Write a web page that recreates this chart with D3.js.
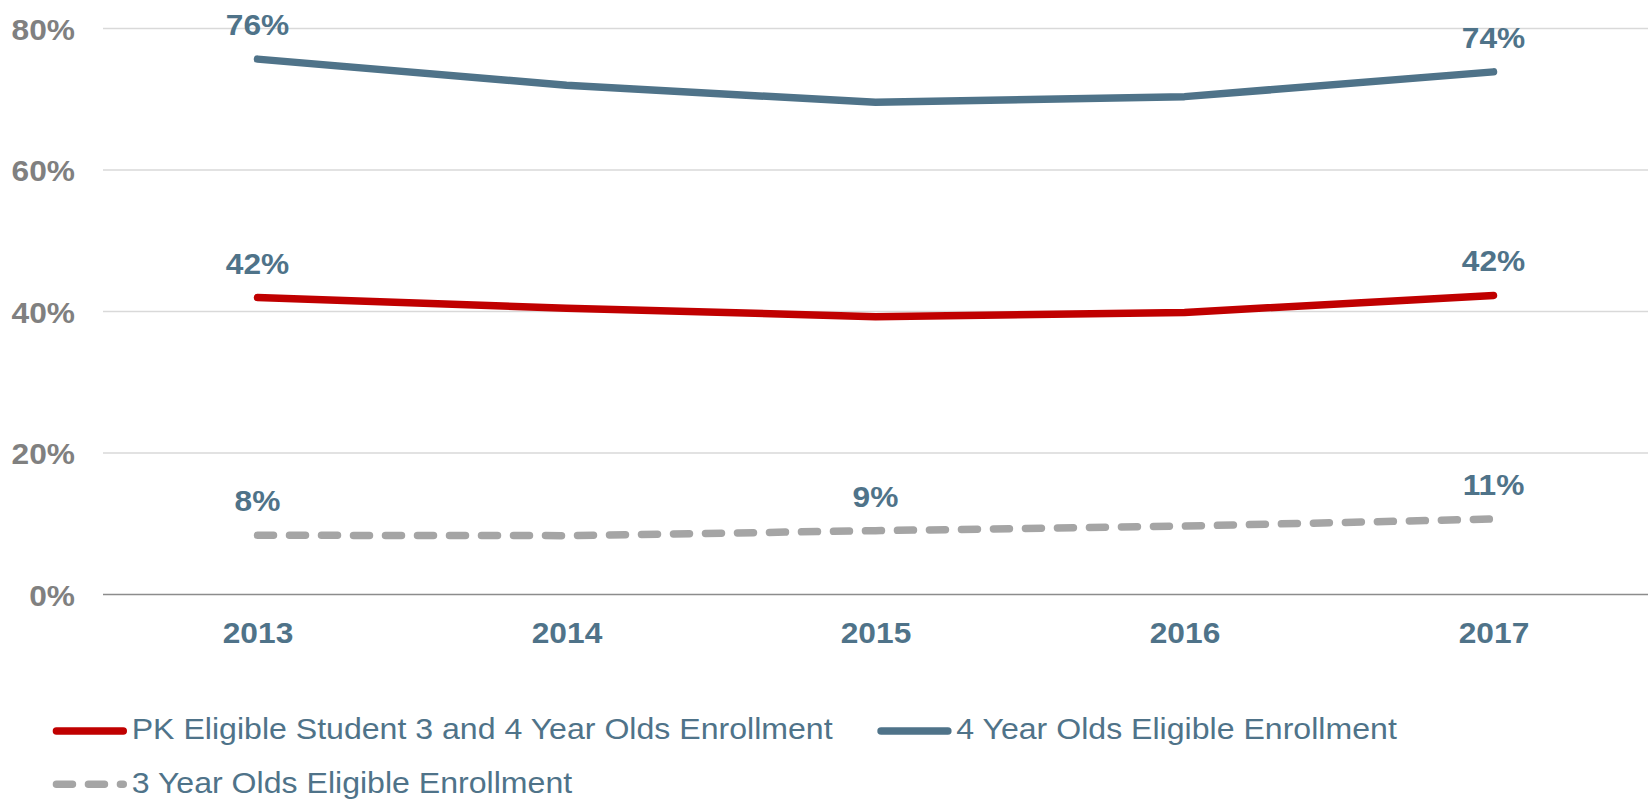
<!DOCTYPE html>
<html>
<head>
<meta charset="utf-8">
<script src="https://cdn.jsdelivr.net/npm/d3@7"></script>
<style>
  html, body { margin: 0; padding: 0; background: #fff; }
  svg { display: block; font-family: "Liberation Sans", Arial, sans-serif; }
</style>
</head>
<body>
<svg id="chart" width="1650" height="800"></svg>
<script>
// Enrollment shares by school year
const years = ["2013", "2014", "2015", "2016", "2017"];
const pkEnrollment = [0.419, 0.404, 0.392, 0.398, 0.422];
const fourYearEnrollment = [0.756, 0.719, 0.695, 0.703, 0.738];
const threeYearEnrollment = [0.083, 0.0825, 0.0895, 0.096, 0.106];
const yTicks = [0, 0.2, 0.4, 0.6, 0.8];

// which points carry a value label, per series
const pkLabelIdx = [0, 4];
const fourLabelIdx = [0, 4];
const threeLabelIdx = [0, 2, 4];

const seriesNames = [
  "PK Eligible Student 3 and 4 Year Olds Enrollment",
  "4 Year Olds Eligible Enrollment",
  "3 Year Olds Eligible Enrollment"
];

const COLORS = { pk: "#c00000", four: "#4f7389", three: "#a5a5a5" };
const TEXT_BLUE = "#4f7389";
const AXIS_GRAY = "#808080";
const FONT_SIZE = 29.5;
const STRETCH = 1.075;        // text is drawn slightly wide
const LEGEND_STRETCH = 1.088;
const LINE_W = 7.5;
const DASH = "16,16";

const svg = d3.select("#chart");

const x = d3.scalePoint().domain(years).range([103, 1648]).padding(0.5);
const y = d3.scaleLinear().domain([0, 0.8]).range([594, 28]);

// horizontal gridlines + percent tick labels
const yAxis = d3.axisLeft(y)
  .tickValues(yTicks)
  .tickFormat(d3.format(".0%"))
  .tickSize(-(1648 - 103))
  .tickPadding(0);

const gy = svg.append("g").attr("transform", "translate(103,0)").call(yAxis);
gy.select(".domain").remove();
gy.selectAll(".tick line")
  .attr("stroke", d => d === 0 ? "#8c8c8c" : "#d9d9d9")
  .attr("stroke-width", d => d === 0 ? 1.6 : 1.3);
gy.selectAll(".tick text")
  .attr("x", 0)
  .attr("dy", null)
  .attr("transform", `translate(-28,11) scale(${STRETCH},1)`)
  .attr("fill", AXIS_GRAY)
  .attr("font-size", FONT_SIZE)
  .attr("font-weight", "bold")
  .attr("font-family", "'Liberation Sans', Arial, sans-serif")
  .attr("text-anchor", "end");

// category labels under the baseline
const xAxis = d3.axisBottom(x).tickSize(0).tickPadding(0);
const gx = svg.append("g").attr("transform", "translate(0,594)").call(xAxis);
gx.select(".domain").remove();
gx.selectAll(".tick text")
  .attr("y", 0)
  .attr("dy", null)
  .attr("transform", `translate(0,48.5) scale(${STRETCH},1)`)
  .attr("fill", TEXT_BLUE)
  .attr("font-size", FONT_SIZE)
  .attr("font-weight", "bold")
  .attr("font-family", "'Liberation Sans', Arial, sans-serif")
  .attr("text-anchor", "middle");

const line = d3.line()
  .x((d, i) => x(years[i]))
  .y(d => y(d));

const series = [
  { key: "three", values: threeYearEnrollment, color: COLORS.three, dash: DASH, labels: threeLabelIdx },
  { key: "pk", values: pkEnrollment, color: COLORS.pk, dash: null, labels: pkLabelIdx },
  { key: "four", values: fourYearEnrollment, color: COLORS.four, dash: null, labels: fourLabelIdx }
];

series.forEach(s => {
  svg.append("path")
    .datum(s.values)
    .attr("d", line)
    .attr("fill", "none")
    .attr("stroke", s.color)
    .attr("stroke-width", LINE_W)
    .attr("stroke-linecap", "round")
    .attr("stroke-linejoin", "round")
    .attr("stroke-dasharray", s.dash);
});

// value labels above selected points
const fmt = d3.format(".0%");
series.forEach(s => {
  svg.append("g").selectAll("text")
    .data(s.labels)
    .join("text")
    .attr("transform", i => `translate(${x(years[i])},${y(s.values[i]) - 24}) scale(${STRETCH},1)`)
    .attr("text-anchor", "middle")
    .attr("fill", TEXT_BLUE)
    .attr("font-size", FONT_SIZE)
    .attr("font-weight", "bold")
    .text(i => fmt(s.values[i]));
});

// legend
const legendItems = [
  { name: seriesNames[0], color: COLORS.pk, dash: null, lx: 52.7, ly: 731 },
  { name: seriesNames[1], color: COLORS.four, dash: null, lx: 877.3, ly: 731 },
  { name: seriesNames[2], color: COLORS.three, dash: DASH, lx: 52.7, ly: 784.3 }
];

const lg = svg.append("g").selectAll("g")
  .data(legendItems)
  .join("g");

lg.append("line")
  .attr("x1", d => d.lx + LINE_W / 2)
  .attr("x2", d => d.lx + 74.3 - LINE_W / 2)
  .attr("y1", d => d.ly)
  .attr("y2", d => d.ly)
  .attr("stroke", d => d.color)
  .attr("stroke-width", LINE_W)
  .attr("stroke-linecap", "round")
  .attr("stroke-dasharray", d => d.dash);

lg.append("text")
  .attr("transform", d => `translate(${d.lx + 79},${d.ly + 8.3}) scale(${LEGEND_STRETCH},1)`)
  .attr("fill", TEXT_BLUE)
  .attr("font-size", FONT_SIZE)
  .text(d => d.name);
</script>
</body>
</html>
